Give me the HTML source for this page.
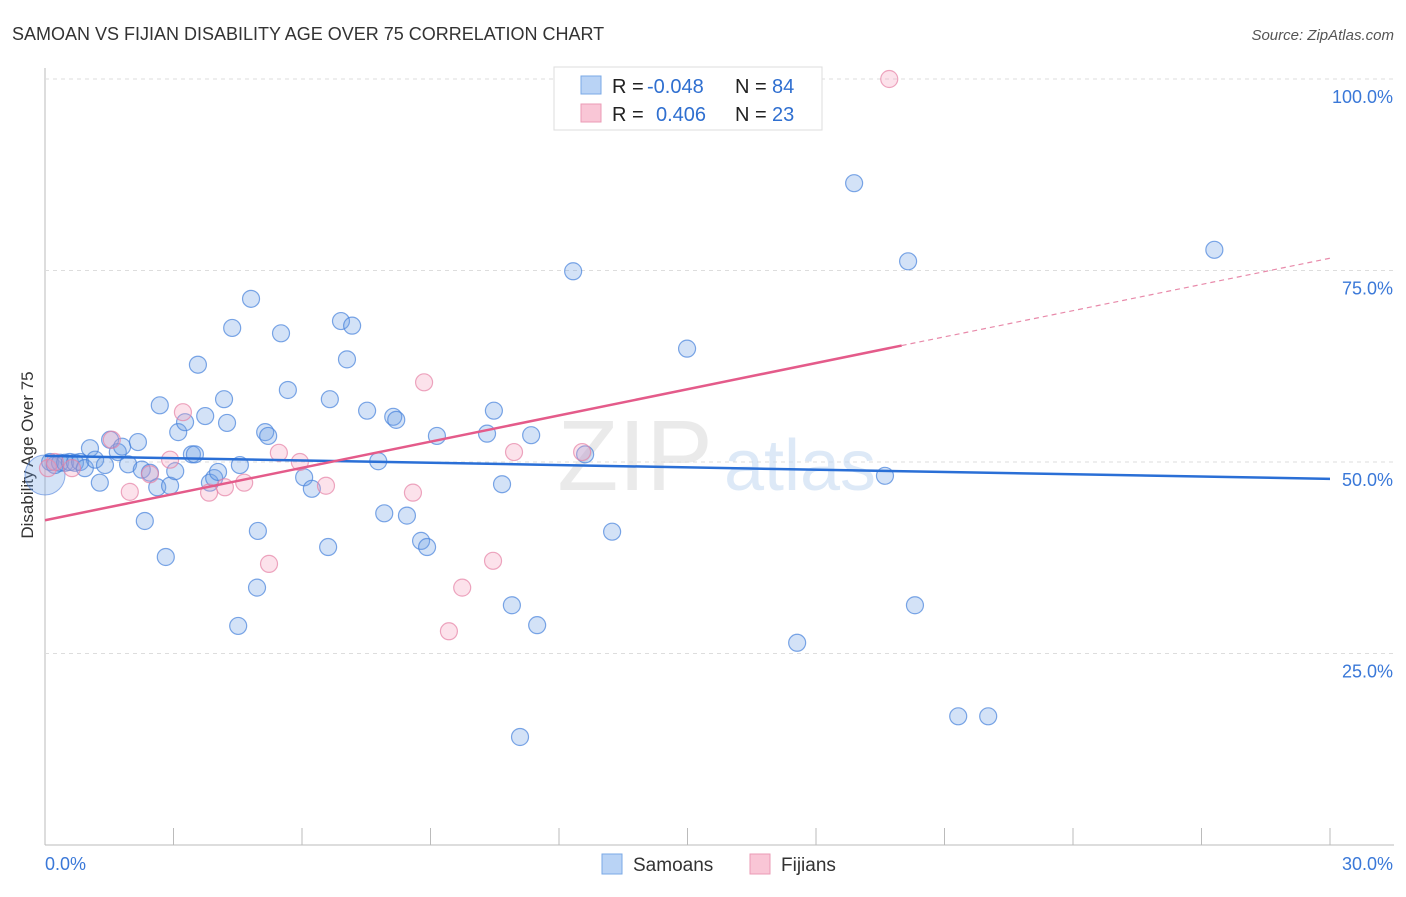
<!DOCTYPE html>
<html><head><meta charset="utf-8"><style>
body{margin:0;background:#fff;font-family:"Liberation Sans",sans-serif;}
svg text{font-family:"Liberation Sans",sans-serif;}
</style></head><body>
<svg id="chart" width="1406" height="892" xmlns="http://www.w3.org/2000/svg">
<text x="12" y="40" font-size="18" fill="#333">SAMOAN VS FIJIAN DISABILITY AGE OVER 75 CORRELATION CHART</text>
<text x="1394" y="40" font-size="15" fill="#555" font-style="italic" text-anchor="end">Source: ZipAtlas.com</text>
<text x="0" y="0" transform="translate(33,455) rotate(-90)" font-size="17" fill="#333" text-anchor="middle">Disability Age Over 75</text>
<g id="grid"></g>
<g id="watermark"><text x="635" y="490" font-size="100" fill="#ddd" font-family="Liberation Serif" text-anchor="middle" opacity="0.6">ZIP</text><text x="800" y="490" font-size="72" fill="#c8dcf2" text-anchor="middle" opacity="0.6">atlas</text></g>
<g id="pts"></g>
<g id="lines"></g>
<g>
<rect x="554" y="67" width="268" height="63" fill="#fff" stroke="#ddd"/>
<rect x="581" y="76" width="20" height="18" fill="#b9d3f5" stroke="#7aa8e6"/>
<rect x="581" y="104" width="20" height="18" fill="#f9c6d6" stroke="#eb9bb6"/>
<text x="612" y="93" font-size="20" fill="#222">R =</text><text x="647" y="93" font-size="20" fill="#2f6fd0">-0.048</text>
<text x="735" y="93" font-size="20" fill="#222">N =</text><text x="772" y="93" font-size="20" fill="#2f6fd0">84</text>
<text x="612" y="121" font-size="20" fill="#222">R =</text><text x="656" y="121" font-size="20" fill="#2f6fd0">0.406</text>
<text x="735" y="121" font-size="20" fill="#222">N =</text><text x="772" y="121" font-size="20" fill="#2f6fd0">23</text>
</g>
<g>
<rect x="602" y="854" width="20" height="20" fill="#b9d3f5" stroke="#7aa8e6"/>
<text x="633" y="871" font-size="19" fill="#333">Samoans</text>
<rect x="750" y="854" width="20" height="20" fill="#f9c6d6" stroke="#eb9bb6"/>
<text x="781" y="871" font-size="19" fill="#333">Fijians</text>
</g>
</svg>
<script>
const xTicks=[0,3,6,9,12,15,18,21,24,27,30];
const yTicks=[25,50,75,100];
const yTickLabels=["25.0%","50.0%","75.0%","100.0%"];
const xEndLabels=["0.0%","30.0%"];
const samoanX=[0.12,0.23,0.35,0.47,0.58,0.70,0.82,0.93,1.05,1.17,1.28,1.40,1.52,1.70,1.80,1.94,2.17,2.26,2.33,2.45,2.62,2.68,2.82,2.92,3.04,3.11,3.27,3.43,3.50,3.57,3.74,3.85,3.95,4.04,4.18,4.25,4.37,4.55,4.81,4.97,4.95,4.51,5.14,5.21,5.51,5.67,6.05,6.23,6.61,6.65,6.91,7.05,7.17,7.52,7.78,7.92,8.13,8.20,8.45,8.78,8.92,9.15,10.32,10.48,10.67,10.90,11.09,11.35,11.49,12.33,12.61,13.24,14.99,17.56,18.89,19.61,20.15,20.31,21.32,22.02,27.30];
const samoanY=[50.0,49.6,49.9,49.9,50.0,49.9,50.0,49.2,51.8,50.3,47.3,49.6,52.9,51.3,52.0,49.7,52.6,49.0,42.3,48.6,46.7,57.4,37.6,46.9,48.8,53.9,55.2,51.0,51.0,62.7,56.0,47.3,47.9,48.7,58.2,55.1,67.5,49.6,71.3,41.0,33.6,28.6,53.9,53.4,66.8,59.4,48.0,46.5,38.9,58.2,68.4,63.4,67.8,56.7,50.1,43.3,55.9,55.5,43.0,39.7,38.9,53.4,53.7,56.7,47.1,31.3,14.1,53.5,28.7,74.9,51.0,40.9,64.8,26.4,86.4,48.2,76.2,31.3,16.8,16.8,77.7];
const fijianX=[0.07,0.23,0.63,1.56,1.98,2.45,2.92,3.22,3.83,4.20,4.65,5.23,5.46,5.95,6.56,8.59,8.85,9.43,9.74,10.46,10.95,12.54,19.71];
const fijianY=[49.2,50.0,49.2,52.9,46.1,48.4,50.3,56.5,46.0,46.7,47.3,36.7,51.2,50.0,46.9,46.0,60.4,27.9,33.6,37.1,51.3,51.3,100.0];
const samoanTrend=[50.8,47.8];
const fijianTrend=[42.4,76.6];
const fijianSolidEnd=20.0;
const NS="http://www.w3.org/2000/svg";
const X=v=>45+v/30*1285, Y=v=>845-v/100*766;
function mk(tag,attrs,parent){const e=document.createElementNS(NS,tag);for(const k in attrs)e.setAttribute(k,attrs[k]);parent.appendChild(e);return e;}
const grid=document.getElementById('grid');
let ax=mk('line',{x1:45,y1:68,x2:45,y2:845,stroke:'#bbb'},grid);


let bx=mk('line',{x1:45,y1:845,x2:1394,y2:845,stroke:'#bbb'},grid);


yTicks.forEach((t,i)=>{
 let g=mk('line',{x1:45,y1:Y(t),x2:1394,y2:Y(t),stroke:'#ddd','stroke-dasharray':'4,4'},grid);
 
 
 let tx=mk('text',{x:1393,y:Y(t)+24,'font-size':18,fill:'#3a78d8','text-anchor':'end'},grid);
 tx.textContent=yTickLabels[i];
 
 
});
xTicks.forEach(t=>{
 let l=mk('line',{x1:X(t),y1:828,x2:X(t),y2:845,stroke:'#bbb'},grid);
 
 
});
let xl0=mk('text',{x:45,y:870,'font-size':18,fill:'#3a78d8'},grid);xl0.textContent=xEndLabels[0];


let xl1=mk('text',{x:1393,y:870,'font-size':18,fill:'#3a78d8','text-anchor':'end'},grid);xl1.textContent=xEndLabels[1];


const pts=document.getElementById('pts');
let big=mk('circle',{cx:X(0),cy:Y(48.3),r:20,fill:'rgba(110,160,230,0.3)',stroke:'rgba(80,130,220,0.6)'},pts);


samoanX.forEach((x,i)=>{
 let c=mk('circle',{cx:X(x),cy:Y(samoanY[i]),r:8.5,fill:'rgba(110,160,230,0.3)','stroke-width':1.2,stroke:'rgba(70,130,220,0.7)'},pts);
 
 
});
fijianX.forEach((x,i)=>{
 let c=mk('circle',{cx:X(x),cy:Y(fijianY[i]),r:8.5,fill:'rgba(245,160,190,0.3)','stroke-width':1.2,stroke:'rgba(230,130,165,0.7)'},pts);
 
 
});
const lines=document.getElementById('lines');
let bl=mk('line',{x1:X(0),y1:Y(samoanTrend[0]),x2:X(30),y2:Y(samoanTrend[1]),stroke:'#2a6fd6','stroke-width':2.5},lines);


const fAt=x=>fijianTrend[0]+(fijianTrend[1]-fijianTrend[0])*x/30;
let pl=mk('line',{x1:X(0),y1:Y(fijianTrend[0]),x2:X(fijianSolidEnd),y2:Y(fAt(fijianSolidEnd)),stroke:'#e45b8a','stroke-width':2.5},lines);


let pd=mk('line',{x1:X(fijianSolidEnd),y1:Y(fAt(fijianSolidEnd)),x2:X(30),y2:Y(fijianTrend[1]),stroke:'#e88aaa','stroke-width':1.2,'stroke-dasharray':'5,4'},lines);


</script>
</body></html>
